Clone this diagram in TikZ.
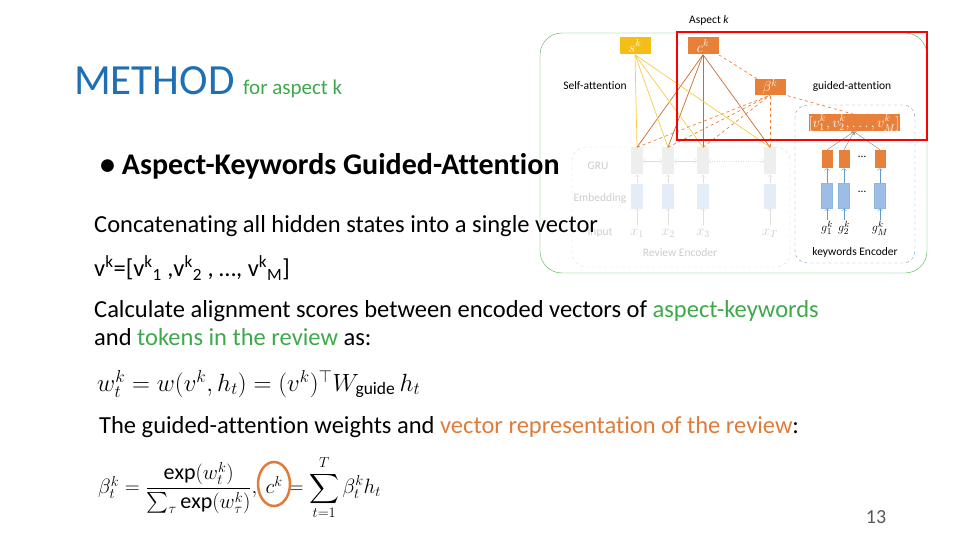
\documentclass[tikz,border=0pt]{standalone}
\usepackage{amsmath}
\usepackage{fontspec}
\setmainfont{Carlito}[Ligatures=NoCommon]
\usetikzlibrary{arrows.meta}
\definecolor{mblue}{HTML}{1F6FB5}
\definecolor{mgreen}{HTML}{3DA94A}
\definecolor{morange}{HTML}{E07B39}
\definecolor{ybox}{HTML}{F5BE16}
\definecolor{obox}{HTML}{E8803A}
\definecolor{gry}{HTML}{EEEEEE}
\definecolor{lblue}{HTML}{E4ECF7}
\definecolor{kblue}{HTML}{9DBDE6}
\tikzset{
 box/.style={draw=none,minimum width=#1,minimum height=17pt,inner sep=0pt,font=\fontsize{14}{15}\selectfont},
 ylw/.style={draw=ybox!80,line width=0.7pt},
 org/.style={draw=obox!85!black,line width=0.7pt},
 orgd/.style={draw=obox,dashed,line width=0.7pt},
 small/.style={font=\fontsize{11.5}{12}\selectfont},
 body/.style={font=\fontsize{24.5}{26}\selectfont,anchor=west,inner sep=0pt},
}
\begin{document}
\begin{tikzpicture}[x=1pt,y=-1pt]
\useasboundingbox (0,0) rectangle (960,540);
% diagram
\draw[green!40!gray,rounded corners=22pt] (540,33) rectangle (927,273);
\draw[gray!30,dashed,rounded corners=14pt] (572,147) rectangle (790,267);
\draw[mblue!70,dashed,rounded corners=12pt] (795,105) rectangle (915,263);
\node[small] (ak) at (709,20) {Aspect \textit{k}};
\node[box=31pt,fill=ybox] (s) at (635,46) {\color{white}$s^k$};
\node[box=31pt,fill=obox] (c) at (703,46) {\color{white}$c^k$};
\node[box=31pt,minimum height=16pt,fill=obox] (b) at (770,87) {\color{white}$\beta^k$};
\node[box=91pt,fill=obox] (v) at (854,123) {\color{white}$[v_1^k,v_2^k,\dots,v_M^k]$};
\node[small] (sa) at (595,86) {Self-attention};
\node[small] (ga) at (852,86) {guided-attention};
\foreach \i/\x in {1/637,2/668,3/703,4/770}{
 \node[box=12pt,minimum height=27pt,fill=gry] (g\i) at (\x,161) {};
 \node[box=12pt,minimum height=25pt,fill=lblue] (e\i) at (\x,196) {};
 \draw[->,gray!25] (\x,225) -- (e\i);
 \draw[->,gray!25] (e\i) -- (g\i);
 \draw[ylw] (g\i.north) -- (s.south);
 \draw[org] (g\i.north) -- (c.south);
 \draw[orgd] (g\i.north) -- (b.south);
}
\draw[<->,gray!25] (g1) -- (g2); \draw[<->,gray!25] (g2) -- (g3); \draw[<->,gray!25,dotted] (g3) -- (g4);
\draw[orgd] (b) -- (c.south east);
\draw[orgd] (v.north) -- (b.south east);
\foreach \i/\l in {1/1,2/2,3/3,4/T}{
 \path (g\i) ++(0,72) node[gray!40,font=\fontsize{14}{15}\selectfont] (x\i) {$x_\l$};}
\node[small,gray!40] (lg) at (598,166) {GRU};
\node[small,gray!40] (le) at (600,198) {Embedding};
\node[small,gray!40] (li) at (600,233) {Input};
\node[small,gray!40] (re) at (680,253) {Review Encoder};
\foreach \i/\x/\l in {1/827/1,2/844/2,3/880/M}{
 \node[box=11pt,minimum height=18pt,fill=obox] (k\i) at (\x,159) {};
 \node[box=11pt,minimum height=25pt,fill=kblue,draw=mblue!50] (kb\i) at (\x,196) {};
 \node[font=\fontsize{13}{14}\selectfont,inner sep=1pt] (gl\i) at (\x,228) {$g_\l^k$};
 \draw[->,mblue!70] (gl\i) -- (kb\i);
 \draw[->,mblue!70] (kb\i) -- (k\i);
 \draw[->,gray] (k\i.north) -- (v.south);
}
\node[small] at (862,157) {\dots};
\node[small] at (862,192) {\dots};
\node[small] (ke) at (855,252) {keywords Encoder};
\draw[red,line width=2.5pt] (677,32) rectangle (927,140);
% text
\node[anchor=base west,inner sep=0pt,text=mblue,font=\fontsize{43}{46}\selectfont] (m) at (74,95) {METHOD};
\node[anchor=base west,inner sep=0pt,text=mgreen,font=\fontsize{21}{22}\selectfont] (fa) at (243,95) {for aspect k};
\node[body,font=\fontsize{30}{32}\selectfont\bfseries] (t1) at (100,166) {•\ Aspect-Keywords Guided-Attention};
\node[body] (t2) at (94,226) {Concatenating all hidden states into a single vector};
\node[body] (t3) at (94,268) {v\textsuperscript{k}=[v\textsuperscript{k}\textsubscript{1} ,v\textsuperscript{k}\textsubscript{2} , …, v\textsuperscript{k}\textsubscript{M}]};
\node[body] (t4) at (94,311) {Calculate alignment scores between encoded vectors of \textcolor{mgreen}{aspect-keywords}};
\node[body] (t5) at (94,337) {and \textcolor{mgreen}{tokens in the review} as:};
\node[anchor=west,inner sep=0pt,font=\fontsize{25}{27}\selectfont] (f1) at (97,384) {$w_t^k = w(v^k,h_t) = (v^k)^\top W_{\text{guide}}\, h_t$};
\node[body] (t6) at (99,427) {The guided-attention weights and \textcolor{morange}{vector representation of the review}:};
\node[anchor=west,inner sep=0pt,font=\fontsize{22}{24}\selectfont] (f2) at (98,488) {$\beta_t^k = \dfrac{\exp(w_t^k)}{\sum_\tau \exp(w_\tau^k)},\ c^k = \displaystyle\sum_{t=1}^{T} \beta_t^k h_t$};
\draw[morange,line width=2.5pt] (274,484) ellipse (16pt and 22pt);
\node[text=gray!70!black,font=\fontsize{20}{22}\selectfont] (pn) at (876,517) {13};
\end{tikzpicture}
\end{document}
